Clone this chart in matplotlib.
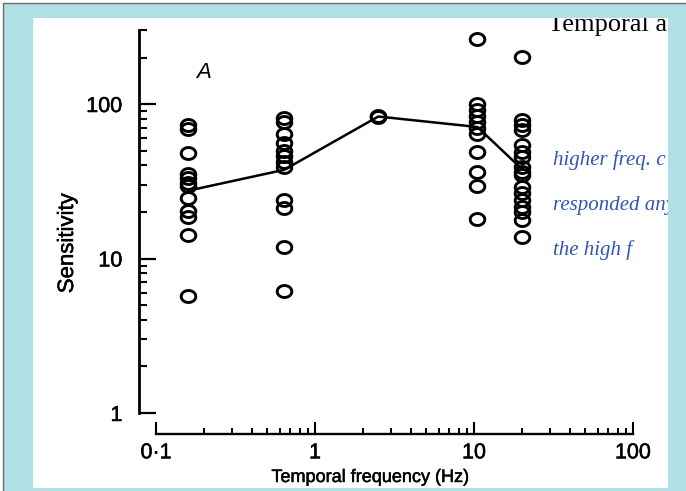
import matplotlib
matplotlib.use("Agg")
import matplotlib.pyplot as plt
import matplotlib.patheffects as pe
import numpy as np
from matplotlib.patches import Rectangle
from matplotlib.path import Path
from matplotlib.transforms import Bbox, TransformedBbox

# ---------------- data ----------------
freq_cols = [0.16, 0.64, 2.5, 10.5, 20.0]
sens_016 = [73, 69, 48, 35, 33, 31, 29.5, 24.6, 20.3, 18.6, 14.2, 5.7]
sens_064 = [81, 77, 64, 56, 50, 46, 42, 39, 24, 21.2, 11.9, 6.2]
sens_25 = [82, 84]
sens_105 = [264, 100, 91, 84, 76, 70, 64, 49, 36.5, 29.5, 18]
sens_20 = [203, 79, 73, 68, 54, 49, 45.6, 39.3, 36.5, 34.7, 29.2, 26.4,
           23.9, 21.6, 20.1, 17.7, 13.8]
mean_sens = [27.5, 37.5, 83, 71, 38]

x_ticks = [0.1, 1, 10, 100]
x_ticklabels = ["0·1", "1", "10", "100"]
y_ticks = [1, 10, 100]
y_ticklabels = ["1", "10", "100"]
x_label = "Temporal frequency (Hz)"
y_label = "Sensitivity"
panel_label = "A"
header_text = "Temporal a"
note_lines = ["higher freq. c", "responded any", "the high f"]

# ---------------- figure ----------------
W, H = 686, 491
fig = plt.figure(figsize=(W / 100, H / 100), dpi=100)
fig.patch.set_facecolor("white")

def fx(px):
    return px / W

def fy(py):
    return 1 - py / H

blue = Rectangle((fx(3), -0.1), 1.2, fy(3) + 0.1, transform=fig.transFigure,
                 facecolor="#b0e0e6", edgecolor="#6f6f6f", lw=1.0, zorder=-3)
fig.patches.append(blue)
white = Rectangle((fx(33), fy(488)), fx(668) - fx(33), fy(18) - fy(488),
                  transform=fig.transFigure, facecolor="white",
                  edgecolor="none", zorder=-2)
fig.patches.append(white)
clipbox = TransformedBbox(Bbox.from_extents(fx(33), fy(488), fx(668), fy(18)),
                          fig.transFigure)

ax_left, ax_right = 139, 633
ax_bottom, ax_top = 434, 30.3
ax = fig.add_axes([fx(ax_left), fy(ax_bottom), fx(ax_right) - fx(ax_left),
                   fy(ax_top) - fy(ax_bottom)])
ax.patch.set_visible(False)
ax.set_xscale("log")
ax.set_yscale("log")
ax.set_xlim(10 ** (-1 - 17 / 159), 100)
ax.set_ylim(10 ** (-(434 - 413) / 154.5), 300)

# ellipse marker (slightly wider than tall)
t = np.linspace(0, 2 * np.pi, 60)
ell = Path(np.column_stack([np.cos(t) * 1.0, np.sin(t) * 0.82]), closed=True)

cols = [sens_016, sens_064, sens_25, sens_105, sens_20]
for f, vals in zip(freq_cols, cols):
    ax.plot([f] * len(vals), vals, linestyle="none", marker=ell,
            markersize=10.5, markerfacecolor="none", markeredgecolor="black",
            markeredgewidth=2.1, zorder=3)

ax.plot(freq_cols, mean_sens, color="black", lw=1.8, zorder=2)

for s in ["top", "right"]:
    ax.spines[s].set_visible(False)
ax.spines["left"].set_bounds(1, 300)
ax.spines["bottom"].set_bounds(0.1, 100)
ax.spines["left"].set_linewidth(2.0)
ax.spines["bottom"].set_linewidth(1.7)

ax.set_xticks(x_ticks)
ax.set_xticklabels(x_ticklabels)
ax.set_yticks(y_ticks)
ax.set_yticklabels(y_ticklabels)
xminor = [m * d for d in [0.1, 1, 10] for m in range(2, 10)]
yminor = [m * d for d in [1, 10] for m in range(2, 10)] + [200, 300]
ax.set_xticks(xminor, minor=True)
ax.set_yticks(yminor, minor=True)
ax.xaxis.set_minor_formatter(matplotlib.ticker.NullFormatter())
ax.yaxis.set_minor_formatter(matplotlib.ticker.NullFormatter())

font = "Liberation Sans"
thick = [pe.withStroke(linewidth=0.35, foreground="black")]
ax.tick_params(axis="y", which="major", direction="in", length=12, width=1.6,
               pad=12, labelsize=15.5)
ax.tick_params(axis="y", which="minor", direction="in", length=6, width=1.5)
ax.tick_params(axis="x", which="major", direction="in", length=9, width=1.5,
               pad=6, labelsize=15.5)
ax.tick_params(axis="x", which="minor", direction="in", length=4, width=1.4)
for lab in ax.get_xticklabels() + ax.get_yticklabels():
    lab.set_fontfamily(font)
    lab.set_path_effects(thick)

ax.set_xlabel(x_label, fontsize=13, fontfamily=font, path_effects=thick)
ax.xaxis.set_label_coords((370 - ax_left) / (ax_right - ax_left),
                          (ax_bottom - 469) / (ax_bottom - ax_top))
ax.set_ylabel(y_label, fontsize=16, fontfamily=font, path_effects=thick)
ax.yaxis.set_label_coords((78 - ax_left) / (ax_right - ax_left),
                          (ax_bottom - 243) / (ax_bottom - ax_top))

ax.text(0.2, 160, panel_label, fontsize=16, fontstyle="italic",
        fontfamily=font, ha="center", va="center")

# header text clipped by white panel
ht = fig.text(fx(548), fy(31), header_text, fontsize=19,
              fontfamily="Liberation Serif", ha="left", va="baseline",
              color="black")
ht.set_clip_box(clipbox)
ht.set_clip_on(True)

# handwritten notes
for i, line in enumerate(note_lines):
    nt = fig.text(fx(553), fy(165 + 45 * i), line, fontsize=15,
                  fontfamily="Liberation Serif", fontstyle="italic",
                  color="#2f55b5", ha="left", va="baseline")
    nt.set_clip_box(clipbox)
    nt.set_clip_on(True)

fig.savefig("out.png", dpi=100)
